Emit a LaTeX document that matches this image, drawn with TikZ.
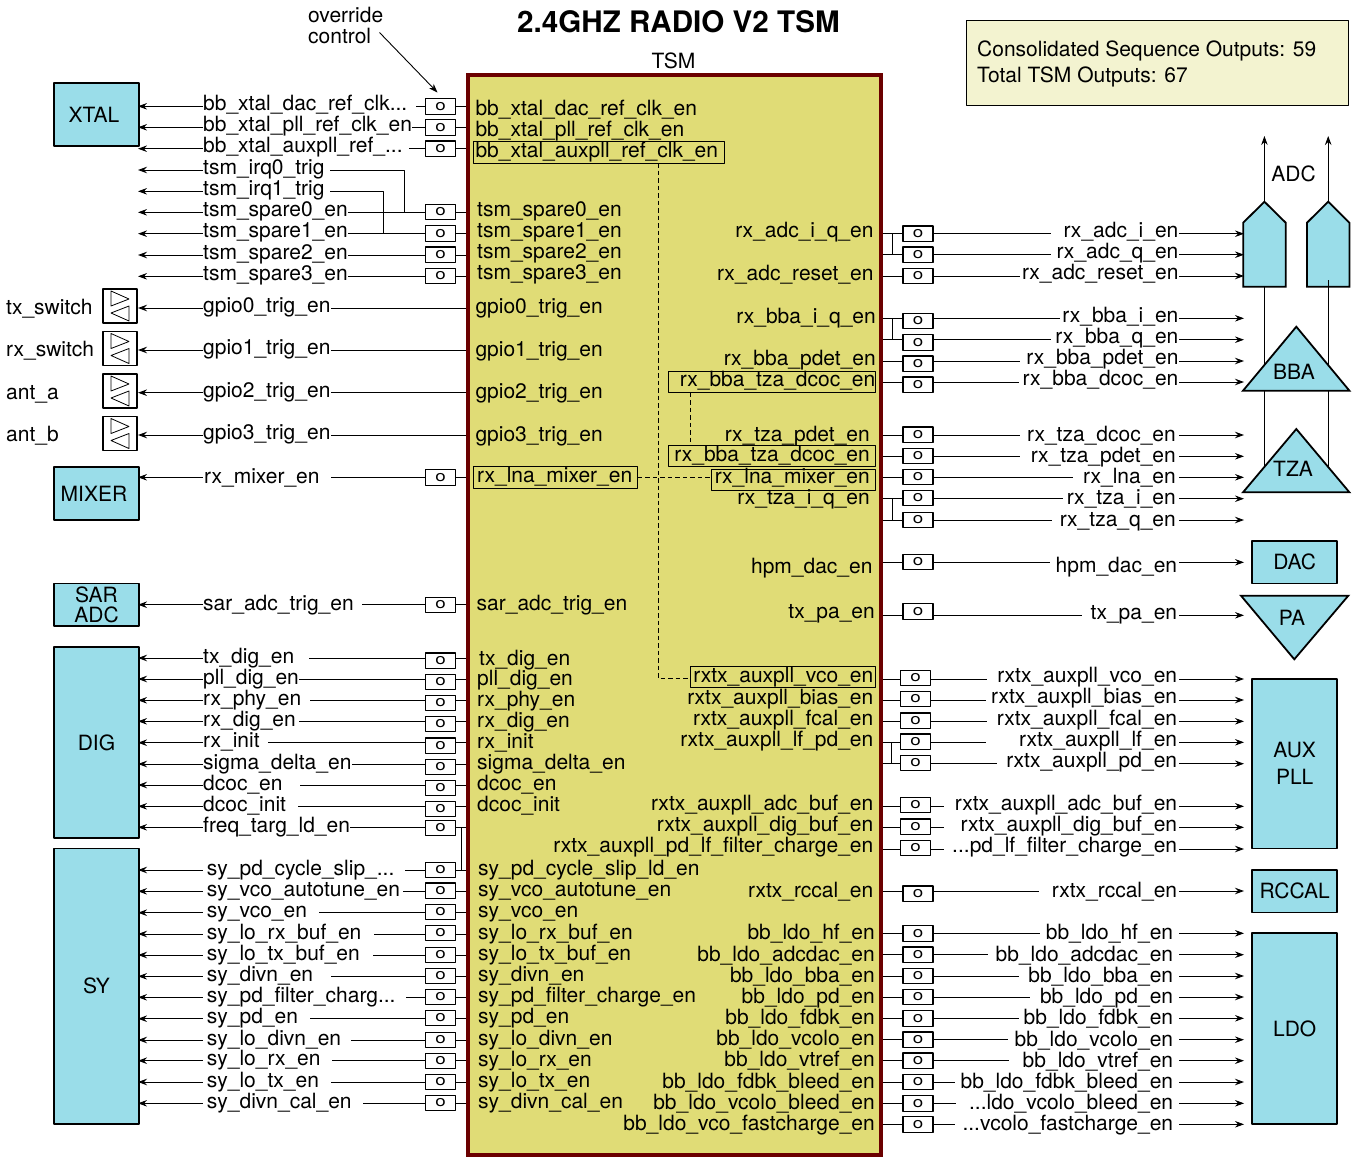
\documentclass[tikz,border=0pt]{standalone}
\usepackage{fontspec}
\setmainfont{TeX Gyre Heros}
\usetikzlibrary{arrows.meta,calc}

\definecolor{blockCyan}{HTML}{9ADDE9}
\definecolor{tsmYellow}{HTML}{E0DC76}
\definecolor{tsmMaroon}{HTML}{6B0000}
\definecolor{noteYellow}{HTML}{F3F3D0}

\begin{document}
\begin{tikzpicture}[x=1pt, y=-1pt, >={Stealth[length=9pt,width=6.5pt,inset=3pt]}, line join=round]

% ---------------- styles ----------------
\tikzset{
  sig/.style={font=\fontsize{21}{21}\selectfont, inner sep=0pt},
  wire/.style={line width=0.9pt},
  ovr/.style={draw, fill=white, line width=1.1pt, inner sep=0pt, minimum width=30pt, minimum height=15.5pt, font=\fontsize{15}{15}\selectfont},
  block/.style={draw, line width=1.8pt, fill=blockCyan, inner sep=0pt, align=center, font=\fontsize{21}{21}\selectfont},
  solid block/.style={draw, line width=1.8pt, fill=blockCyan, line join=miter},
  hilite/.style={draw, line width=0.8pt, inner sep=0pt},
  link/.style={dash pattern=on 4.5pt off 3pt, line width=0.8pt},
  swbox/.style={draw, fill=white, line width=1.5pt, inner sep=0pt, minimum width=34pt, minimum height=34pt}
}

% ---------------- parameters ----------------
\def\tipL{138}    % left arrow tips
\def\stubL{202.5} % left arrows start
\def\boxL{440.5}  % override boxes, left side
\def\edgeL{466}   % TSM, left wall
\def\edgeR{883}   % TSM, right wall
\def\tipR{1244}   % right arrow tips
\def\stubR{1179}  % right arrows start
\def\lblDrop{4}   % label baseline below its line

% left row: id, line y, box y, label x, label, gap after label
\def\sigL#1#2#3#4#5#6{
  \coordinate (tip#1) at (\tipL,#2);
  \coordinate (stub#1) at (\stubL,#2);
  \coordinate (edge#1) at (\edgeL,#2);
  \node[sig, anchor=base west] (lbl#1) at (#4,#2+\lblDrop) {#5};
  \node[ovr] (box#1) at (\boxL,#3) {\scalebox{1.25}[1]{o}};
  \draw[wire,->] (stub#1) -- (tip#1);
  \draw[wire] (edge#1) -- (edge#1 -| box#1.east);
  \draw[wire] (edge#1 -| box#1.west) -- ($(edge#1 -| lbl#1.east)+(#6,0)$);
}
% left row without a box
\def\sigT#1#2#3{
  \coordinate (tip#1) at (\tipL,#2);
  \coordinate (stub#1) at (\stubL,#2);
  \coordinate (edge#1) at (\edgeL,#2);
  \node[sig, anchor=base west] (lbl#1) at (203,#2+\lblDrop) {#3};
  \draw[wire,->] (stub#1) -- (tip#1);
}
% right row: id, line y, box x, box y, label, label right end, gap before label
\def\sigR#1#2#3#4#5#6#7{
  \coordinate (edge#1) at (\edgeR,#2);
  \coordinate (stub#1) at (\stubR,#2);
  \coordinate (tip#1) at (\tipR,#2);
  \node[sig, anchor=base east] (lbl#1) at (#6,#2+\lblDrop) {#5};
  \node[ovr] (box#1) at (#3,#4) {\scalebox{1.25}[1]{o}};
  \draw[wire,->] (stub#1) -- (tip#1);
  \draw[wire] (edge#1) -- (edge#1 -| box#1.west);
  \draw[wire] (edge#1 -| box#1.east) -- ($(edge#1 -| lbl#1.west)-(#7,0)$);
}
% switch symbol: id, centre y, name, name baseline
\def\swBox#1#2#3#4{
  \node[swbox] (sw#1) at (120,#2) {};
  \draw[line width=0.8pt] ($(sw#1.center)+(-9,-15)$) -- ++(0,15) -- ++(18,-7) -- cycle;
  \draw[line width=0.8pt] ($(sw#1.center)+(9,0)$) -- ++(0,15) -- ++(-18,-8) -- cycle;
  \node[sig, anchor=base west] (name#1) at (6,#4) {#3};
}
\def\txtL#1#2#3#4{\node[sig, anchor=base west] (in#1) at (#2,#3) {#4};}
\def\txtR#1#2#3#4{\node[sig, anchor=base east] (in#1) at (#2,#3) {#4};}

\useasboundingbox (0,0) rectangle (1352,1157);

% ---------------- title + note ----------------
\node[font=\bfseries\fontsize{29.6}{30}\selectfont, inner sep=0pt] (title) at (678.5,22) {2.4GHZ RADIO V2 TSM};
\node[sig] (tsmName) at (673.5,60.5) {TSM};
\node[draw=black, line width=0.9pt, fill=noteYellow, minimum width=381.6pt, minimum height=84.6pt, inner sep=0pt] (note) at (1157.5,63) {};
\node[sig, anchor=base west] (noteA) at (977,56.5) {Consolidated Sequence Outputs: 59};
\node[sig, anchor=base west] (noteB) at (977,82.5) {Total TSM Outputs: 67};
\node[sig, anchor=base west] (overrideA) at (308,22) {override};
\node[sig, anchor=base west] (overrideB) at (308,43.5) {control};
\coordinate (overrideFrom) at (379.5,32.5);
\coordinate (overrideTo) at (437.5,92.5);
\draw[wire,->] (overrideFrom) -- (overrideTo);

% ---------------- TSM block ----------------
\node[draw=tsmMaroon, line width=4pt, line join=miter, fill=tsmYellow, minimum width=413pt, minimum height=1080pt, inner sep=0pt] (tsm) at (674.5,615) {};

% ---------------- blocks, left ----------------
\node[block, minimum width=85pt, minimum height=63.5pt] (xtal) at (96.5,114.5) {XTAL\kern5pt};
\node[block, minimum width=85pt, minimum height=53.5pt] (mixer) at (96.5,493.5) {MIXER\kern5pt};
\node[block, minimum width=85pt, minimum height=42.5pt] (sarAdc) at (96.5,604.7) {SAR\\[-1pt]ADC};
\node[block, minimum width=85pt, minimum height=190.5pt] (dig) at (96.5,742.5) {DIG};
\node[block, minimum width=85pt, minimum height=275.5pt] (sy) at (96.5,986.2) {SY};

% ---------------- blocks, right ----------------
\node[block, minimum width=85pt, minimum height=42.5pt] (dac) at (1294.7,562.2) {DAC};
\node[block, minimum width=85pt, minimum height=169.5pt] (auxPll) at (1294.7,763.7) {AUX\\[6pt]PLL};
\node[block, minimum width=85pt, minimum height=42.5pt] (rccal) at (1294.7,891.2) {RCCAL};
\node[block, minimum width=85pt, minimum height=191pt] (ldo) at (1294.7,1028.8) {LDO};

% ADC pair
\draw[solid block] (1243.2,286.7) -- (1243.2,222.7) -- (1264.4,201.7) -- (1285.7,222.7) -- (1285.7,286.7) -- cycle;
\draw[solid block] (1307,286.7) -- (1307,222.7) -- (1328.2,201.7) -- (1349.4,222.7) -- (1349.4,286.7) -- cycle;
\coordinate (adcA) at (1264.4,201.7);
\coordinate (adcB) at (1328.2,201.7);
\coordinate (adcAOut) at (1264.4,136);
\coordinate (adcBOut) at (1328.2,136);
\draw[wire,->] (adcA) -- (adcAOut);
\draw[wire,->] (adcB) -- (adcBOut);
\node[sig] (adcTxt) at (1293.5,173.5) {ADC};
% clock lines behind BBA and TZA
\coordinate (clkA) at (1264.4,286.7);
\coordinate (clkB) at (1328.2,280);
\coordinate (clkAEnd) at (1264.4,470);
\coordinate (clkBEnd) at (1328.2,470);
\draw[wire] (clkA) -- (clkAEnd);
\draw[wire] (clkB) -- (clkBEnd);
\draw[solid block] (1243,390.7) -- (1296.3,326.7) -- (1349.4,390.7) -- cycle;
\node[sig] (bbaTxt) at (1294,371.5) {BBA};
\draw[solid block] (1243,492.3) -- (1296.3,429) -- (1349.4,492.3) -- cycle;
\node[sig] (tzaTxt) at (1293,468.5) {TZA};
\draw[solid block] (1241,595.7) -- (1348.3,595.7) -- (1294.3,659.3) -- cycle;
\node[sig] (paTxt) at (1292,618) {PA};

% ---------------- left rows ----------------
\sigL{XtalDac}{106.3}{106.3}{203}{bb\_xtal\_dac\_ref\_clk...}{9}
\sigL{XtalPll}{127.3}{127.3}{203}{bb\_xtal\_pll\_ref\_clk\_en}{0}
\sigL{XtalAux}{148.7}{148.7}{203}{bb\_xtal\_auxpll\_ref\_...}{6}
\sigT{IrqA}{170}{tsm\_irq0\_trig}
\sigT{IrqB}{191.3}{tsm\_irq1\_trig}
\sigL{SpareA}{212.3}{212}{203}{tsm\_spare0\_en}{0}
\sigL{SpareB}{233.7}{233.5}{203}{tsm\_spare1\_en}{0}
\sigL{SpareC}{255}{254.7}{203}{tsm\_spare2\_en}{0}
\sigL{SpareD}{276.3}{276}{203}{tsm\_spare3\_en}{0}
% irq lines tie into the spare rows
\coordinate (joinA) at (404.3,212.3);
\coordinate (joinB) at (383,233.7);
\draw[wire] ($(lblIrqA.east |- tipIrqA)+(5.5,0)$) -| (joinA);
\draw[wire] ($(lblIrqB.east |- tipIrqB)+(5.5,0)$) -| (joinB);

\def\lblDrop{4.7}
\sigT{GpioA}{308}{gpio0\_trig\_en}
\sigT{GpioB}{350}{gpio1\_trig\_en}
\sigT{GpioC}{392.7}{gpio2\_trig\_en}
\sigT{GpioD}{435}{gpio3\_trig\_en}
\draw[wire] (edgeGpioA) -- (edgeGpioA -| lblGpioA.east);
\draw[wire] (edgeGpioB) -- (edgeGpioB -| lblGpioB.east);
\draw[wire] (edgeGpioC) -- (edgeGpioC -| lblGpioC.east);
\draw[wire] (edgeGpioD) -- (edgeGpioD -| lblGpioD.east);
\swBox{A}{306}{tx\_switch}{314}
\swBox{B}{348.5}{rx\_switch}{356.5}
\swBox{C}{391}{ant\_a}{399.5}
\swBox{D}{433.5}{ant\_b}{441.5}

\def\lblDrop{6}
\sigL{Mixer}{477.3}{477.5}{204}{rx\_mixer\_en}{11}
\sigL{Sar}{604.7}{605}{203}{sar\_adc\_trig\_en}{8}

\def\lblDrop{5}
\sigL{TxDig}{658}{660.7}{203}{tx\_dig\_en}{15}
\sigL{PllDig}{679}{682}{203}{pll\_dig\_en}{0}
\sigL{RxPhy}{700.3}{703}{203}{rx\_phy\_en}{9}
\sigL{RxDig}{721.3}{724}{203}{rx\_dig\_en}{3}
\sigL{RxInit}{742.7}{745.7}{203}{rx\_init}{8}
\sigL{Sigma}{764}{767}{203}{sigma\_delta\_en}{0}
\sigL{DcocEn}{785}{788}{203}{dcoc\_en}{17}
\sigL{DcocInit}{806.3}{809}{203}{dcoc\_init}{12}
\sigL{FreqTarg}{827.3}{828}{203}{freq\_targ\_ld\_en}{0}

\sigL{SyPdSlip}{870}{870}{206.7}{sy\_pd\_cycle\_slip\_...}{10}
\sigL{SyAuto}{891.3}{890.7}{206.7}{sy\_vco\_autotune\_en}{3}
\sigL{SyVco}{912.7}{912}{206.7}{sy\_vco\_en}{12}
\sigL{SyLoRxBuf}{934}{933}{206.7}{sy\_lo\_rx\_buf\_en}{12}
\sigL{SyLoTxBuf}{955}{955}{206.7}{sy\_lo\_tx\_buf\_en}{13}
\sigL{SyDivn}{976.3}{976}{206.7}{sy\_divn\_en}{18}
\sigL{SyFilter}{997.3}{997}{206.7}{sy\_pd\_filter\_charg...}{10}
\sigL{SyPd}{1018.7}{1018}{206.7}{sy\_pd\_en}{12}
\sigL{SyLoDivn}{1040}{1040}{206.7}{sy\_lo\_divn\_en}{10}
\sigL{SyLoRx}{1060.7}{1061}{206.7}{sy\_lo\_rx\_en}{11}
\sigL{SyLoTx}{1082}{1082}{206.7}{sy\_lo\_tx\_en}{12}
\sigL{SyCal}{1103.3}{1103}{206.7}{sy\_divn\_cal\_en}{11}
% freq_targ_ld_en shares the slip enable
\coordinate (freqBend) at (461,870);
\draw[wire] (boxFreqTarg.east |- edgeFreqTarg) -| (freqBend);

% ---------------- right rows ----------------
\def\lblDrop{3.7}
\sigR{AdcI}{233.7}{918}{233.7}{rx\_adc\_i\_en}{1178.6}{12}
\sigR{AdcQ}{254.7}{918}{254.7}{rx\_adc\_q\_en}{1178.6}{5.5}
\sigR{AdcRst}{276}{918}{276}{rx\_adc\_reset\_en}{1178.6}{2}
\sigR{BbaI}{318.3}{918}{321}{rx\_bba\_i\_en}{1178.6}{2}
\sigR{BbaQ}{339.7}{918}{342.3}{rx\_bba\_q\_en}{1178.6}{4}
\sigR{BbaPdet}{361}{918}{363.7}{rx\_bba\_pdet\_en}{1178.6}{6}
\sigR{BbaDcoc}{382}{918}{384.7}{rx\_bba\_dcoc\_en}{1178.6}{3.5}
\def\lblDrop{6}
\sigR{TzaDcoc}{435}{918}{434.7}{rx\_tza\_dcoc\_en}{1176}{7}
\sigR{TzaPdet}{456.3}{918}{456}{rx\_tza\_pdet\_en}{1176}{10.5}
\sigR{Lna}{477.3}{918}{477}{rx\_lna\_en}{1176}{10}
\sigR{TzaI}{498.7}{918}{498}{rx\_tza\_i\_en}{1176}{3.5}
\sigR{TzaQ}{520}{918}{520}{rx\_tza\_q\_en}{1176}{7.5}
\def\lblDrop{10.4}
\sigR{Hpm}{562.3}{918}{562}{hpm\_dac\_en}{1177.3}{5.5}
\def\lblDrop{3.7}
\sigR{Pa}{615.3}{918}{611.3}{tx\_pa\_en}{1177.3}{9}
\sigR{AuxVco}{679}{915.7}{678}{rxtx\_auxpll\_vco\_en}{1177.3}{10.5}
\sigR{AuxBias}{700}{915.7}{699}{rxtx\_auxpll\_bias\_en}{1177.3}{4.5}
\sigR{AuxFcal}{721.3}{915.7}{720.7}{rxtx\_auxpll\_fcal\_en}{1177.3}{10}
\sigR{AuxLf}{742.3}{915.7}{741.7}{rxtx\_auxpll\_lf\_en}{1177.3}{32.5}
\sigR{AuxPd}{763.7}{915.7}{763}{rxtx\_auxpll\_pd\_en}{1177.3}{9}
\sigR{AuxAdc}{806.3}{915.7}{805}{rxtx\_auxpll\_adc\_buf\_en}{1177.3}{10.5}
\sigR{AuxDig}{827.3}{915.7}{826.7}{rxtx\_auxpll\_dig\_buf\_en}{1177.3}{16.5}
\sigR{AuxFilter}{849}{915.7}{848}{...pd\_lf\_filter\_charge\_en}{1177.3}{8}
\def\lblDrop{6.5}
\sigR{Rccal}{891}{918}{893.7}{rxtx\_rccal\_en}{1177.3}{13}
\sigR{LdoHf}{933.3}{918}{933.3}{bb\_ldo\_hf\_en}{1173.3}{6}
\sigR{LdoAdc}{954.7}{918}{954.7}{bb\_ldo\_adcdac\_en}{1173.3}{7.3}
\sigR{LdoBba}{976}{918}{976}{bb\_ldo\_bba\_en}{1173.3}{9}
\sigR{LdoPd}{997}{918}{997}{bb\_ldo\_pd\_en}{1173.3}{10}
\sigR{LdoFdbk}{1018.3}{918}{1018.3}{bb\_ldo\_fdbk\_en}{1173.3}{4}
\sigR{LdoVcolo}{1039.7}{918}{1039.7}{bb\_ldo\_vcolo\_en}{1173.3}{6.3}
\sigR{LdoVtref}{1060.7}{918}{1060.7}{bb\_ldo\_vtref\_en}{1173.3}{14}
\sigR{LdoFbleed}{1082}{918}{1082}{bb\_ldo\_fdbk\_bleed\_en}{1173.3}{5}
\sigR{LdoVbleed}{1103.3}{918}{1103.3}{...ldo\_vcolo\_bleed\_en}{1173.3}{13.3}
\sigR{LdoFast}{1124.3}{918}{1124.3}{...vcolo\_fastcharge\_en}{1173.3}{7}
% i/q share one enable
\coordinate (tapAdc) at (892,233.7);
\coordinate (tapBba) at (892,318.3);
\coordinate (tapTza) at (892,498.7);
\coordinate (tapAux) at (891.7,742.3);
\draw[wire] (tapAdc) |- (boxAdcQ.west |- edgeAdcQ);
\draw[wire] (tapBba) |- (boxBbaQ.west |- edgeBbaQ);
\draw[wire] (tapTza) |- (boxTzaQ.west |- edgeTzaQ);
\draw[wire] (tapAux) |- (boxAuxPd.west |- edgeAuxPd);

% ---------------- labels inside TSM, left ----------------
\txtL{XtalDac}{475.3}{115}{bb\_xtal\_dac\_ref\_clk\_en}
\txtL{XtalPll}{475.3}{136}{bb\_xtal\_pll\_ref\_clk\_en}
\txtL{XtalAux}{475.3}{157}{bb\_xtal\_auxpll\_ref\_clk\_en}
\txtL{SpareA}{477}{216.5}{tsm\_spare0\_en}
\txtL{SpareB}{477}{237.5}{tsm\_spare1\_en}
\txtL{SpareC}{477}{258.5}{tsm\_spare2\_en}
\txtL{SpareD}{477}{279.5}{tsm\_spare3\_en}
\txtL{GpioA}{475.3}{313.5}{gpio0\_trig\_en}
\txtL{GpioB}{475.3}{356}{gpio1\_trig\_en}
\txtL{GpioC}{475.3}{398.5}{gpio2\_trig\_en}
\txtL{GpioD}{475.3}{441}{gpio3\_trig\_en}
\txtL{LnaMix}{477}{482.5}{rx\_lna\_mixer\_en}
\txtL{Sar}{476.5}{610.5}{sar\_adc\_trig\_en}
\txtL{TxDig}{479}{665}{tx\_dig\_en}
\txtL{PllDig}{477}{685}{pll\_dig\_en}
\txtL{RxPhy}{477}{706}{rx\_phy\_en}
\txtL{RxDig}{477}{727}{rx\_dig\_en}
\txtL{RxInit}{477}{748}{rx\_init}
\txtL{Sigma}{477}{769}{sigma\_delta\_en}
\txtL{DcocEn}{477}{790}{dcoc\_en}
\txtL{DcocInit}{477}{811}{dcoc\_init}
\txtL{SyPdSlip}{478}{875.5}{sy\_pd\_cycle\_slip\_ld\_en}
\txtL{SyAuto}{478}{896}{sy\_vco\_autotune\_en}
\txtL{SyVco}{478}{917}{sy\_vco\_en}
\txtL{SyLoRxBuf}{478}{939}{sy\_lo\_rx\_buf\_en}
\txtL{SyLoTxBuf}{478}{960}{sy\_lo\_tx\_buf\_en}
\txtL{SyDivn}{478}{981}{sy\_divn\_en}
\txtL{SyFilter}{478}{1002}{sy\_pd\_filter\_charge\_en}
\txtL{SyPd}{478}{1023}{sy\_pd\_en}
\txtL{SyLoDivn}{478}{1045}{sy\_lo\_divn\_en}
\txtL{SyLoRx}{478}{1066}{sy\_lo\_rx\_en}
\txtL{SyLoTx}{478}{1087}{sy\_lo\_tx\_en}
\txtL{SyCal}{478}{1108}{sy\_divn\_cal\_en}

% ---------------- labels inside TSM, right ----------------
\txtR{AdcIQ}{873.7}{237.3}{rx\_adc\_i\_q\_en}
\txtR{AdcRst}{873.7}{280}{rx\_adc\_reset\_en}
\txtR{BbaIQ}{876}{323.7}{rx\_bba\_i\_q\_en}
\txtR{BbaPdet}{876}{365}{rx\_bba\_pdet\_en}
\txtR{BbaDcocA}{875.5}{386.5}{rx\_bba\_tza\_dcoc\_en}
\txtR{TzaPdet}{870}{441}{rx\_tza\_pdet\_en}
\txtR{BbaDcocB}{870}{461.5}{rx\_bba\_tza\_dcoc\_en}
\txtR{LnaMixR}{870}{483}{rx\_lna\_mixer\_en}
\txtR{TzaIQ}{870}{504.5}{rx\_tza\_i\_q\_en}
\txtR{Hpm}{872.7}{573.5}{hpm\_dac\_en}
\txtR{Pa}{875}{618.5}{tx\_pa\_en}
\txtR{AuxVco}{873.5}{682.5}{rxtx\_auxpll\_vco\_en}
\txtR{AuxBias}{873.5}{704}{rxtx\_auxpll\_bias\_en}
\txtR{AuxFcal}{873.5}{725}{rxtx\_auxpll\_fcal\_en}
\txtR{AuxLfPd}{873.5}{746.5}{rxtx\_auxpll\_lf\_pd\_en}
\txtR{AuxAdc}{873.5}{810.5}{rxtx\_auxpll\_adc\_buf\_en}
\txtR{AuxDig}{873.5}{831.5}{rxtx\_auxpll\_dig\_buf\_en}
\txtR{AuxFilter}{873.5}{852.5}{rxtx\_auxpll\_pd\_lf\_filter\_charge\_en}
\txtR{Rccal}{873.5}{897}{rxtx\_rccal\_en}
\txtR{LdoHf}{875}{939.5}{bb\_ldo\_hf\_en}
\txtR{LdoAdc}{875}{961.5}{bb\_ldo\_adcdac\_en}
\txtR{LdoBba}{875}{982.5}{bb\_ldo\_bba\_en}
\txtR{LdoPd}{875}{1003.5}{bb\_ldo\_pd\_en}
\txtR{LdoFdbk}{875}{1024.5}{bb\_ldo\_fdbk\_en}
\txtR{LdoVcolo}{875}{1045.5}{bb\_ldo\_vcolo\_en}
\txtR{LdoVtref}{875}{1066.5}{bb\_ldo\_vtref\_en}
\txtR{LdoFbleed}{875}{1088.5}{bb\_ldo\_fdbk\_bleed\_en}
\txtR{LdoVbleed}{875}{1109.5}{bb\_ldo\_vcolo\_bleed\_en}
\txtR{LdoFast}{875}{1130.5}{bb\_ldo\_vco\_fastcharge\_en}

% ---------------- highlighted names + dashed links ----------------
\node[hilite, minimum width=250.3pt, minimum height=21.3pt] (hlXtalAux) at (598.85,152.35) {};
\node[hilite, minimum width=206.7pt, minimum height=21.4pt] (hlBbaA) at (772.15,382) {};
\node[hilite, minimum width=206.7pt, minimum height=21pt] (hlBbaB) at (772.15,456.2) {};
\node[hilite, minimum width=163.7pt, minimum height=21.3pt] (hlLnaL) at (555.55,477.35) {};
\node[hilite, minimum width=163.7pt, minimum height=21pt] (hlLnaR) at (793.65,479.5) {};
\node[hilite, minimum width=184.7pt, minimum height=21.7pt] (hlAuxVco) at (782.65,676.85) {};
\coordinate (linkBend) at (658.3,678.3);
\coordinate (linkTop) at (658.3,163);
\coordinate (linkMid) at (690,392.7);
\coordinate (linkMidEnd) at (690,445.7);
\draw[link] (linkTop) -- (linkBend) -- (linkBend -| hlAuxVco.west);
\draw[link] (linkMid) -- (linkMidEnd);
\draw[link] (hlLnaL.east) -- (hlLnaL.east -| hlLnaR.west);

\end{tikzpicture}
\end{document}
